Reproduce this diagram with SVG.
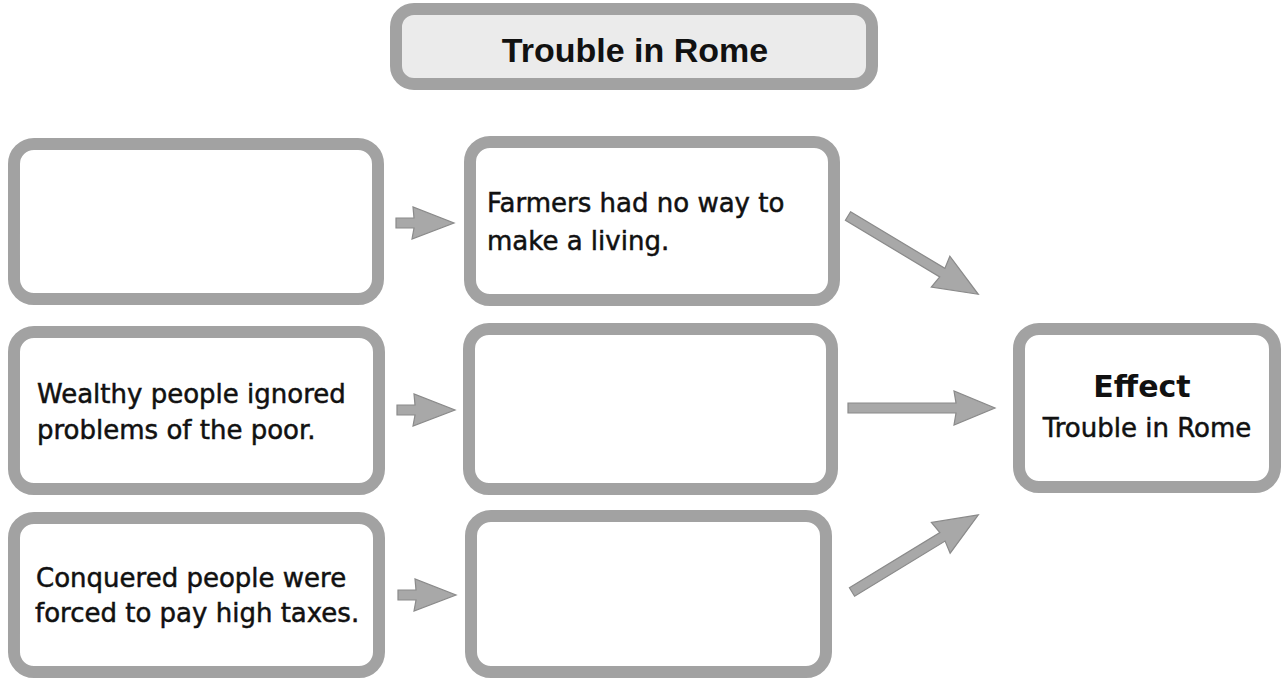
<svg xmlns="http://www.w3.org/2000/svg" width="1288" height="681" viewBox="0 0 1288 681">
<style>
.box{fill:#ffffff;stroke:#a2a2a2;stroke-width:12}
.title{fill:#ebebeb;stroke:#a2a2a2;stroke-width:12}
.t{font-family:"DejaVu Sans","Liberation Sans",sans-serif;font-size:26px;fill:#111;stroke:#111;stroke-width:0.5}
.tb{font-family:"DejaVu Sans","Liberation Sans",sans-serif;font-weight:bold;fill:#111}
.arr{fill:#a8a8a8;stroke:#8a8a8a;stroke-width:1.2;stroke-linejoin:miter}
</style>
<defs>
<path id="small" d="M0,-5 L18,-5 L17,-16 L58,0 L16,16 L18,5 L0,5 Z"/>
</defs>
<rect width="1288" height="681" fill="#ffffff"/>

<g id="title">
<rect class="title" x="396" y="9" width="476" height="75" rx="18"/>
<text x="635" y="62" font-family="'Liberation Sans',Arial,sans-serif" font-weight="bold" font-size="34" fill="#111" text-anchor="middle">Trouble in Rome</text>
</g>

<g id="cause1">
<rect class="box" x="14" y="144" width="364" height="155" rx="20"/>
</g>
<g id="effect1">
<rect class="box" x="470" y="142" width="364" height="158" rx="20"/>
<text class="t" x="487" y="212">Farmers had no way to</text>
<text class="t" x="487" y="250">make a living.</text>
</g>

<g id="cause2">
<rect class="box" x="14" y="332" width="365" height="157" rx="20"/>
<text class="t" x="37" y="403">Wealthy people ignored</text>
<text class="t" x="37" y="439">problems of the poor.</text>
</g>
<g id="effect2">
<rect class="box" x="469" y="329" width="363" height="160" rx="20"/>
</g>

<g id="cause3">
<rect class="box" x="14" y="518" width="365" height="154" rx="20"/>
<text class="t" x="36" y="587">Conquered people were</text>
<text class="t" x="35" y="622" font-size="26.8">forced to pay high taxes.</text>
</g>
<g id="effect3">
<rect class="box" x="471" y="516" width="355" height="156" rx="20"/>
</g>

<g id="final">
<rect class="box" x="1019" y="329" width="256" height="158" rx="20"/>
<text class="tb" x="1142" y="397" font-size="30" text-anchor="middle">Effect</text>
<text class="t" x="1147" y="437" font-size="26" text-anchor="middle">Trouble in Rome</text>
</g>

<g id="connectors">
<use href="#small" class="arr" transform="translate(396,223)"/>
<use href="#small" class="arr" transform="translate(397,410)"/>
<use href="#small" class="arr" transform="translate(398,595)"/>
<path class="arr" transform="translate(848,216) rotate(31)" d="M0,-5 L110,-5 L108,-18 L152,0 L108,18 L110,5 L0,5 Z"/>
<path class="arr" transform="translate(848,408)" d="M0,-5 L108,-5 L106,-17 L147,0 L106,17 L108,5 L0,5 Z"/>
<path class="arr" transform="translate(852,592) rotate(-31.4)" d="M0,-5 L106,-5 L104,-18 L148,0 L104,18 L106,5 L0,5 Z"/>
</g>
</svg>
